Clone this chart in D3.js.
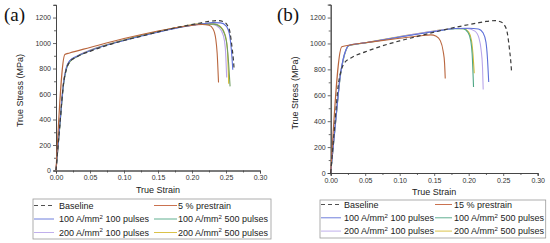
<!DOCTYPE html>
<html>
<head>
<meta charset="utf-8">
<script src="https://cdn.jsdelivr.net/npm/d3@7"></script>
<style>
  body { margin: 0; background: #fff; }
  svg { display: block; }
</style>
</head>
<body>
<svg id="chart" width="550" height="243"></svg>
<script>
// tick labels
var strainTicks = [0, 0.05, 0.10, 0.15, 0.20, 0.25, 0.30];
var stressTicks = [0, 200, 400, 600, 800, 1000, 1200];

// [true strain, true stress MPa]
var baseline = [[0,0],[0.006,380],[0.011,680],[0.015,790],[0.02,850],[0.03,890],[0.05,935],[0.08,990],[0.10,1020],[0.13,1060],[0.16,1100],[0.19,1135],[0.21,1155],[0.225,1170],[0.238,1176],[0.246,1168],[0.252,1140],[0.256,1080],[0.259,960],[0.261,860],[0.262,790]];

// panel (a)
var pre5 = [[0,0],[0.013,910],[0.02,922],[0.05,965],[0.10,1035],[0.15,1095],[0.19,1132],[0.215,1146],[0.225,1140],[0.231,1110],[0.235,1030],[0.237,920],[0.239,690]];
var a100x100 = [[0,0],[0.006,380],[0.011,680],[0.015,800],[0.02,860],[0.03,895],[0.05,940],[0.10,1020],[0.15,1085],[0.19,1130],[0.215,1150],[0.23,1160],[0.242,1158],[0.25,1135],[0.255,1070],[0.258,940],[0.26,790]];
var a100x500 = [[0,0],[0.006,370],[0.011,670],[0.015,790],[0.02,850],[0.03,890],[0.05,940],[0.10,1022],[0.15,1088],[0.19,1132],[0.215,1148],[0.232,1148],[0.242,1125],[0.248,1070],[0.252,960],[0.254,830],[0.256,660]];
var a200x100 = [[0,0],[0.006,390],[0.011,690],[0.015,805],[0.02,860],[0.03,895],[0.05,945],[0.10,1025],[0.15,1090],[0.19,1133],[0.215,1148],[0.23,1146],[0.24,1120],[0.246,1060],[0.249,960],[0.251,730]];
var a200x500 = [[0,0],[0.006,385],[0.011,685],[0.015,800],[0.02,855],[0.03,892],[0.05,942],[0.10,1024],[0.15,1090],[0.19,1134],[0.215,1150],[0.232,1150],[0.243,1122],[0.249,1060],[0.252,950],[0.254,680]];

// panel (b)
var pre15 = [[0,0],[0.016,975],[0.03,990],[0.06,1012],[0.10,1040],[0.13,1060],[0.145,1066],[0.153,1055],[0.159,1020],[0.163,940],[0.165,850],[0.166,730]];
var b100x100 = [[0,0],[0.008,450],[0.014,760],[0.018,880],[0.022,950],[0.026,985],[0.05,1005],[0.10,1050],[0.15,1092],[0.18,1115],[0.20,1118],[0.214,1112],[0.221,1080],[0.225,1010],[0.227,900],[0.229,703]];
var b100x500 = [[0,0],[0.008,440],[0.014,750],[0.018,870],[0.022,945],[0.026,982],[0.05,1003],[0.10,1050],[0.15,1094],[0.18,1114],[0.192,1114],[0.199,1085],[0.203,1020],[0.205,920],[0.207,664]];
var b200x100 = [[0,0],[0.008,445],[0.014,755],[0.018,875],[0.022,948],[0.026,984],[0.05,1005],[0.10,1052],[0.15,1095],[0.18,1116],[0.198,1116],[0.209,1095],[0.215,1040],[0.218,950],[0.22,820],[0.221,645]];
var b200x500 = [[0,0],[0.008,445],[0.014,755],[0.018,872],[0.022,946],[0.026,983],[0.05,1006],[0.10,1053],[0.15,1096],[0.18,1115],[0.193,1114],[0.2,1088],[0.204,1025],[0.206,930],[0.208,770]];

var colors = {
  base: "#3c3c3c", pre: "#c4623c", b100: "#5d6fd8", g500: "#4ea684",
  l100: "#b9a6ea", y500: "#d7bb34"
};

var FONT = "Liberation Sans, Arial, sans-serif";
var svg = d3.select("#chart");

function panel(cfg) {
  var x = d3.scaleLinear().domain([0, 0.30]).range([cfg.x0, cfg.x1]);
  var y = d3.scaleLinear().domain([0, 1300]).range([cfg.y0, cfg.yTop]);
  var g = svg.append("g");

  // minor ticks
  var xAxisMinor = d3.axisBottom(x).tickValues(d3.range(0.025, 0.30, 0.05)).tickSize(2).tickFormat("");
  var yAxisMinor = d3.axisLeft(y).tickValues(d3.range(100, 1300, 200)).tickSize(2).tickFormat("");
  g.append("g").attr("transform", "translate(0," + cfg.y0 + ")").call(xAxisMinor);
  g.append("g").attr("transform", "translate(" + cfg.x0 + ",0)").call(yAxisMinor);

  var xAxis = d3.axisBottom(x).tickValues(strainTicks).tickSize(3).tickPadding(2)
    .tickFormat(d3.format(".2f"));
  var yAxis = d3.axisLeft(y).tickValues(stressTicks).tickSize(3).tickPadding(2)
    .tickFormat(d3.format("d"));
  g.append("g").attr("transform", "translate(0," + cfg.y0 + ")").call(xAxis);
  g.append("g").attr("transform", "translate(" + cfg.x0 + ",0)").call(yAxis);

  g.selectAll(".domain").attr("stroke", "#444").attr("stroke-width", 0.9);
  g.selectAll(".tick line").attr("stroke", "#444").attr("stroke-width", 0.8);
  g.selectAll(".tick text").attr("font-size", 7).attr("fill", "#333")
    .attr("font-family", FONT);

  // axis titles
  g.append("text")
    .attr("x", (cfg.x0 + cfg.x1) / 2).attr("y", cfg.y0 + 22)
    .attr("text-anchor", "middle").attr("font-size", 9).attr("fill", "#222")
    .attr("font-family", FONT)
    .text("True Strain");
  g.append("text")
    .attr("transform", "translate(" + (cfg.x0 - 33) + "," + (cfg.y0 - 80) + ") rotate(-90)")
    .attr("text-anchor", "middle").attr("font-size", 9).attr("fill", "#222")
    .attr("font-family", FONT)
    .text("True Stress (MPa)");

  // panel letter
  g.append("text")
    .attr("x", cfg.lx).attr("y", 21)
    .attr("font-family", "Liberation Serif, Times New Roman, serif")
    .attr("font-size", 19).attr("fill", "#111")
    .text(cfg.letter);

  var line = d3.line()
    .x(function(d) { return x(d[0]); })
    .y(function(d) { return y(d[1]); })
    .curve(d3.curveMonotoneX);

  cfg.series.forEach(function(s) {
    g.append("path")
      .datum(s.data)
      .attr("fill", "none")
      .attr("stroke", s.color)
      .attr("stroke-width", s.dash ? 1.2 : 1.1)
      .attr("stroke-dasharray", s.dash ? "4,3" : null)
      .attr("d", line);
  });

  // legend
  var L = cfg.legend;
  g.append("rect")
    .attr("x", L.x).attr("y", L.y).attr("width", L.w).attr("height", L.h)
    .attr("fill", "#fff").attr("stroke", "#9a9a9a").attr("stroke-width", 0.8);

  cfg.legendItems.forEach(function(it, i) {
    var col = i % 2, row = Math.floor(i / 2);
    var lx = col === 0 ? L.c1 : L.c2;
    var tx = col === 0 ? L.t1 : L.t2;
    var yy = L.y + L.r0 + row * L.dr;
    g.append("line")
      .attr("x1", lx[0]).attr("x2", lx[1]).attr("y1", yy).attr("y2", yy)
      .attr("stroke", it.color).attr("stroke-width", 0.9)
      .attr("stroke-dasharray", it.dash ? "4,3" : null);
    var t = g.append("text").attr("x", tx).attr("y", yy + 3.3)
      .attr("font-size", 9).attr("fill", "#222").attr("font-family", FONT);
    if (it.sup) {
      t.append("tspan").text(it.label[0]);
      t.append("tspan").attr("font-size", 6).attr("dy", -3.5).text("2");
      t.append("tspan").attr("dy", 3.5).text(it.label[1]);
    } else {
      t.text(it.label);
    }
  });
}

panel({
  x0: 56, x1: 260, y0: 170.5, yTop: 4.8, lx: 4, letter: "(a)",
  series: [
    {data: a200x100, color: colors.l100},
    {data: a200x500, color: colors.y500},
    {data: a100x500, color: "#6f9e62"},
    {data: a100x100, color: colors.b100},
    {data: pre5, color: "#b9663e"},
    {data: baseline, color: colors.base, dash: true}
  ],
  legend: {x: 33, y: 199, w: 238, h: 40, r0: 6.5, dr: 13.5, c1: [34, 54], t1: 59, c2: [154, 177], t2: 178},
  legendItems: [
    {label: "Baseline", color: colors.base, dash: true},
    {label: "5 % prestrain", color: colors.pre},
    {label: ["100 A/mm", " 100 pulses"], sup: true, color: colors.b100},
    {label: ["100 A/mm", " 500 pulses"], sup: true, color: colors.g500},
    {label: ["200 A/mm", " 100 pulses"], sup: true, color: colors.l100},
    {label: ["200 A/mm", " 500 pulses"], sup: true, color: colors.y500}
  ]
});

panel({
  x0: 330.7, x1: 537.7, y0: 173, yTop: 4.6, lx: 277, letter: "(b)",
  series: [
    {data: b200x500, color: colors.y500},
    {data: b100x500, color: colors.g500},
    {data: b200x100, color: colors.l100},
    {data: b100x100, color: colors.b100},
    {data: pre15, color: "#b9663e"},
    {data: baseline, color: colors.base, dash: true}
  ],
  legend: {x: 320, y: 200, w: 225.7, h: 38, r0: 4.5, dr: 13.3, c1: [321, 341], t1: 344, c2: [435, 452], t2: 454},
  legendItems: [
    {label: "Baseline", color: colors.base, dash: true},
    {label: "15 % prestrain", color: colors.pre},
    {label: ["100 A/mm", " 100 pulses"], sup: true, color: colors.b100},
    {label: ["100 A/mm", " 500 pulses"], sup: true, color: colors.g500},
    {label: ["200 A/mm", " 100 pulses"], sup: true, color: colors.l100},
    {label: ["200 A/mm", " 500 pulses"], sup: true, color: colors.y500}
  ]
});
</script>
</body>
</html>
